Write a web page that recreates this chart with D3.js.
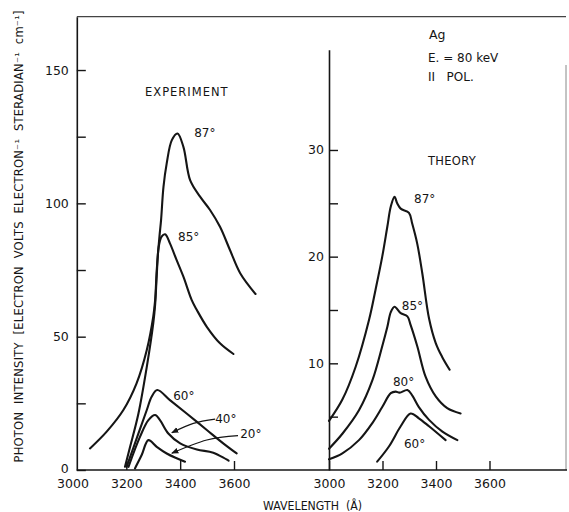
<!DOCTYPE html>
<html>
<head>
<meta charset="utf-8">
<script src="https://cdn.jsdelivr.net/npm/d3@7"></script>
<style>
  body { margin: 0; background: #fff; }
  svg { display: block; font-family: 'DejaVu Sans', sans-serif; }
</style>
</head>
<body>
<svg id="chart" width="569" height="512"></svg>
<script>
// [wavelength (Å), photon intensity]
const exp87 = [[3065, 8.1], [3127, 14.4], [3189, 22.5], [3238, 32.5], [3276, 45], [3300, 57.5], [3307, 63.7],
  [3313, 75], [3323, 87.5], [3329, 93.7], [3338, 106.2], [3350, 115], [3369, 123.7], [3390, 126.2],
  [3412, 121.2], [3437, 108.7], [3474, 102.5], [3511, 97.5], [3548, 91.2], [3585, 82.5], [3623, 73.8], [3680, 66]];
const exp85 = [[3195, 1.2], [3214, 8.7], [3245, 21.2], [3276, 38.7], [3300, 55], [3307, 62], [3313, 73],
  [3320, 83.5], [3331, 87.5], [3344, 88.4], [3362, 85], [3387, 78.7], [3412, 72.5], [3443, 63.7],
  [3462, 60], [3499, 53.7], [3548, 47.5], [3598, 43.5]];
const exp60 = [[3201, 1.2], [3245, 13.7], [3276, 22.5], [3294, 27.5], [3315, 30], [3362, 26.2], [3424, 21.2],
  [3499, 15], [3560, 10], [3610, 6.2]];
const exp40 = [[3208, 1.2], [3251, 12.5], [3282, 18.7], [3307, 20.6], [3325, 18.7], [3356, 13.7], [3400, 10],
  [3462, 7.7], [3523, 6.5], [3580, 3.5]];
const exp20 = [[3232, 0.6], [3257, 5.6], [3282, 11.2], [3313, 8.7], [3350, 6.2], [3387, 4.4], [3418, 3.1]];

const th87 = [[3000, 4.6], [3050, 6.6], [3100, 9.7], [3150, 14.1], [3174, 16.9], [3199, 20], [3218, 22.8],
  [3231, 24.7], [3245, 25.6], [3255, 25], [3268, 24.5], [3299, 24.1], [3311, 23.1], [3330, 21.2],
  [3349, 18.4], [3374, 14.2], [3399, 11.9], [3423, 10.6], [3451, 9.4]];
const th85 = [[3000, 2.0], [3050, 3.4], [3112, 5.6], [3162, 8.4], [3199, 11.6], [3218, 13.4], [3231, 14.8],
  [3245, 15.3], [3268, 14.7], [3293, 14.4], [3305, 13.6], [3330, 11.6], [3361, 8.75], [3399, 6.9],
  [3442, 5.8], [3492, 5.3]];
const th80 = [[3000, 1.0], [3050, 1.56], [3112, 2.8], [3162, 4.4], [3199, 5.9], [3231, 7.2], [3249, 7.35],
  [3264, 7.25], [3293, 7.5], [3311, 7.0], [3336, 5.9], [3374, 4.7], [3424, 3.6], [3480, 2.8]];
const th60 = [[3180, 0.78], [3224, 2.2], [3268, 4.1], [3305, 5.3], [3336, 4.85], [3374, 4.1], [3436, 2.8]];

const ticksX = [3000, 3200, 3400, 3600];
const expTicksY = [0, 25, 50, 75, 100, 125, 150];
const expLabelsY = [0, 50, 100, 150];
const thTicksY = [5, 10, 15, 20, 25, 30];
const thLabelsY = [10, 20, 30];

const expCurveLabels = [['87°', 3452, 124.9], ['85°', 3392, 85.9], ['60°', 3374, 26.2], ['40°', 3530, 17.6], ['20°', 3623, 12]];
const thCurveLabels = [['87°', 3318, 25.06], ['85°', 3272, 15.0], ['80°', 3239, 7.9], ['60°', 3280, 2.1]];
// leader lines from the 40° and 20° labels to their curves
const leader40 = [[3530, 19.1], [3449, 17.5], [3369, 14]];
const leader20 = [[3615, 12.9], [3499, 11.25], [3369, 6.3]];

const svg = d3.select('#chart');
const ink = '#151515';

const xExp = d3.scaleLinear().domain([3000, 3600]).range([72.5, 234]);
const yExp = d3.scaleLinear().domain([0, 170]).range([470, 16.7]);
const xTh = d3.scaleLinear().domain([3000, 3600]).range([329, 489.5]);
const yTh = d3.scaleLinear().domain([0, 39.4]).range([470, 49.7]);

const expAxisX = xExp(3016);

svg.append('defs').append('marker')
  .attr('id', 'arrow')
  .attr('viewBox', '0 0 10 10')
  .attr('refX', 9).attr('refY', 5)
  .attr('markerWidth', 6).attr('markerHeight', 6)
  .attr('orient', 'auto')
  .append('path')
  .attr('d', 'M0,1 L10,5 L0,9 Z')
  .attr('fill', ink);

function styleAxis(g) {
  g.attr('font-family', null).attr('font-size', 12.5);
  g.select('.domain').attr('stroke', ink).attr('stroke-width', 1.6);
  g.selectAll('.tick line').attr('stroke', ink).attr('stroke-width', 1.4);
  g.selectAll('.tick text').attr('fill', ink);
}

// frame: top line, right edge, shared baseline
svg.append('line').attr('x1', expAxisX).attr('x2', 566).attr('y1', 16.7).attr('y2', 16.7)
  .attr('stroke', '#444').attr('stroke-width', 1.2);
svg.append('line').attr('x1', 566).attr('x2', 566).attr('y1', 65).attr('y2', 470)
  .attr('stroke', '#888').attr('stroke-width', 1);
svg.append('line').attr('x1', expAxisX).attr('x2', 567).attr('y1', 470).attr('y2', 470)
  .attr('stroke', ink).attr('stroke-width', 1.6);

// y axes
const gyExp = svg.append('g')
  .attr('transform', `translate(${expAxisX},0)`)
  .call(d3.axisLeft(yExp).tickValues(expTicksY).tickSizeInner(-9).tickSizeOuter(0).tickPadding(8)
    .tickFormat(d => expLabelsY.includes(d) ? d : ''))
  .call(styleAxis);
// lift the "0" a little so it clears the 3000 below it
gyExp.selectAll('.tick').filter(d => d === 0).select('text').attr('dy', '0.2em');

svg.append('g')
  .attr('transform', `translate(${xTh(3000)},0)`)
  .call(d3.axisLeft(yTh).tickValues(thTicksY).tickSizeInner(-9).tickSizeOuter(0).tickPadding(5)
    .tickFormat(d => thLabelsY.includes(d) ? d : ''))
  .call(styleAxis);

// x axes
const gxExp = svg.append('g')
  .attr('transform', 'translate(0,470)')
  .call(d3.axisBottom(xExp).tickValues(ticksX).tickSizeInner(-9).tickSizeOuter(0).tickPadding(9)
    .tickFormat(d3.format('d')))
  .call(styleAxis);
gxExp.select('.domain').remove();
gxExp.selectAll('.tick').filter(d => d === 3000).select('line').remove();

const gxTh = svg.append('g')
  .attr('transform', 'translate(0,470)')
  .call(d3.axisBottom(xTh).tickValues(ticksX).tickSizeInner(-9).tickSizeOuter(0).tickPadding(9)
    .tickFormat(d3.format('d')))
  .call(styleAxis);
gxTh.select('.domain').remove();

// curves
const lineExp = d3.line().x(d => xExp(d[0])).y(d => yExp(d[1])).curve(d3.curveCatmullRom.alpha(0.5));
const lineTh = d3.line().x(d => xTh(d[0])).y(d => yTh(d[1])).curve(d3.curveCatmullRom.alpha(0.5));

[exp87, exp85, exp60, exp40, exp20].forEach(s => {
  svg.append('path').attr('d', lineExp(s))
    .attr('fill', 'none').attr('stroke', ink).attr('stroke-width', 2.1)
    .attr('stroke-linejoin', 'round').attr('stroke-linecap', 'round');
});
[th87, th85, th80, th60].forEach(s => {
  svg.append('path').attr('d', lineTh(s))
    .attr('fill', 'none').attr('stroke', ink).attr('stroke-width', 2.1)
    .attr('stroke-linejoin', 'round').attr('stroke-linecap', 'round');
});

const leaderLine = d3.line().x(d => xExp(d[0])).y(d => yExp(d[1])).curve(d3.curveNatural);
[leader40, leader20].forEach(s => {
  svg.append('path').attr('d', leaderLine(s))
    .attr('fill', 'none').attr('stroke', ink).attr('stroke-width', 1.2)
    .attr('marker-end', 'url(#arrow)');
});

// curve labels
svg.selectAll('.lblExp').data(expCurveLabels).join('text')
  .attr('x', d => xExp(d[1])).attr('y', d => yExp(d[2]))
  .attr('font-size', 12).attr('fill', ink).text(d => d[0]);
svg.selectAll('.lblTh').data(thCurveLabels).join('text')
  .attr('x', d => xTh(d[1])).attr('y', d => yTh(d[2]))
  .attr('font-size', 12).attr('fill', ink).text(d => d[0]);

// panel titles and notes
svg.append('text').attr('x', 145).attr('y', 96).attr('font-size', 11.5)
  .attr('letter-spacing', 1).attr('fill', ink).text('EXPERIMENT');
svg.append('text').attr('x', 428).attr('y', 165).attr('font-size', 11.5)
  .attr('letter-spacing', 0.3).attr('fill', ink).text('THEORY');
svg.append('text').attr('x', 429).attr('y', 39).attr('font-size', 12.5).attr('fill', ink).text('Ag');
svg.append('text').attr('x', 428).attr('y', 62).attr('font-size', 12).attr('fill', ink).text('E. = 80 keV');
svg.append('text').attr('x', 428).attr('y', 81).attr('font-size', 12).attr('fill', ink)
  .attr('xml:space', 'preserve').text('II   POL.');

// axis titles
svg.append('text').attr('x', 263).attr('y', 510).attr('font-size', 12)
  .attr('textLength', 99).attr('lengthAdjust', 'spacingAndGlyphs')
  .attr('xml:space', 'preserve').attr('fill', ink).text('WAVELENGTH  (Å)');

svg.append('text')
  .attr('transform', 'translate(23,236.5) rotate(-90)')
  .attr('text-anchor', 'middle').attr('font-size', 11.5)
  .attr('textLength', 452).attr('lengthAdjust', 'spacing')
  .attr('xml:space', 'preserve').attr('fill', ink)
  .text('PHOTON  INTENSITY  [ELECTRON  VOLTS  ELECTRON⁻¹  STERADIAN⁻¹  cm⁻¹]');
</script>
</body>
</html>
